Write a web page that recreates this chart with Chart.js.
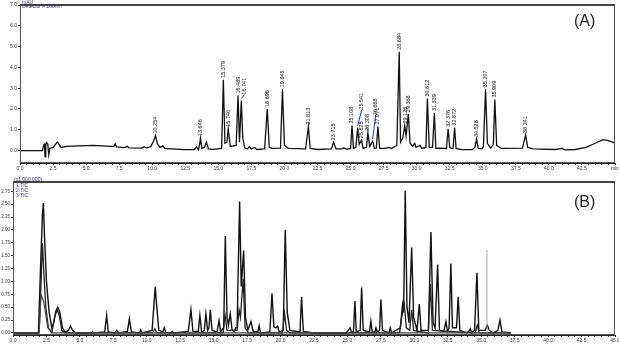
<!DOCTYPE html>
<html>
<head>
<meta charset="utf-8">
<script src="https://cdn.jsdelivr.net/npm/chart.js@4.4.1/dist/chart.umd.min.js"></script>
<style>
  html, body { margin: 0; padding: 0; background: #fff; }
  #wrap { position: relative; width: 619px; height: 347px; overflow: hidden; font-family: "Liberation Sans", Arial, sans-serif; }
  canvas { position: absolute; left: 0; }
  #chartA { top: 0; }
  #chartB { top: 170px; }
  .tag { position: absolute; font-size: 16px; color: #222; }
  .hdr { position: absolute; font-size: 5px; line-height: 5px; color: #3a3a6a; white-space: nowrap; }
</style>
</head>
<body>
<div id="wrap">
  <canvas id="chartA" width="619" height="176"></canvas>
  <canvas id="chartB" width="619" height="177"></canvas>
  <div class="tag" style="left:574px; top:12px;">(A)</div>
  <div class="tag" style="left:574px; top:193px;">(B)</div>
  <div class="hdr" style="left:22px; top:0px;">mAU</div>
  <div class="hdr" style="left:22px; top:4px;">Detector A 280nm</div>
  <div class="hdr" style="left:14px; top:177px;">(x1,000,000)</div>
  <div class="hdr" style="left:16px; top:183px;">1:TIC</div>
  <div class="hdr" style="left:16px; top:188px;">2:TIC</div>
  <div class="hdr" style="left:16px; top:193px;">3:TIC</div>
</div>
<script>
// tick labels
const xLabelsA = ['0.0', '2.5', '5.0', '7.5', '10.0', '12.5', '15.0', '17.5', '20.0', '22.5',
    '25.0', '27.5', '30.0', '32.5', '35.0', '37.5', '40.0', '42.5', 'min'];
const xLabelsB = ['0.0', '2.5', '5.0', '7.5', '10.0', '12.5', '15.0', '17.5', '20.0', '22.5',
    '25.0', '27.5', '30.0', '32.5', '35.0', '37.5', '40.0', '42.5', '45.0'];
const yTicksA = [0, 1, 2, 3, 4, 5, 6, 7];
const yTicksB = [0, 0.25, 0.5, 0.75, 1, 1.25, 1.5, 1.75, 2, 2.25, 2.5, 2.75];

// (A) UV trace, [min, signal]
const traceA = [
    [0, 0], [1.7, 0], [1.78, 0.25], [1.85, 0.3], [1.9, -0.3], [1.95, 0.3], [2.02, 0.38], [2.1, 0.3],
    [2.18, -0.2], [2.25, 0.1], [2.5, 0.15], [2.75, 0.35], [2.85, 0.4], [2.95, 0.3], [3.1, 0.15],
    [3.5, 0.2], [4.5, 0.22], [5.5, 0.25], [6.3, 0.22], [6.8, 0.2], [7.1, 0.2], [7.2, 0.32], [7.3, 0.18],
    [7.9, 0.14], [8.1, 0.2], [8.25, 0.13], [9.2, 0.12], [9.4, 0.18], [9.55, 0.12], [9.9, 0.2],
    [10.1, 0.45], [10.25, 0.72], [10.4, 0.3], [10.6, 0.15], [10.8, 0.22], [10.95, 0.1], [11.5, 0.08],
    [12.4, 0.04], [13.2, 0.05], [13.35, 0.18], [13.5, 0.04], [13.6, 0.35], [13.65, 0.6], [13.75, 0.1],
    [13.95, 0.15], [14.1, 0.4], [14.25, 0.08], [14.6, 0.06], [15.25, 0.1], [15.38, 3.4], [15.5, 0.35],
    [15.65, 0.4], [15.75, 1.05], [15.9, 0.2], [16.35, 0.25], [16.49, 2.65], [16.6, 0.4], [16.74, 2.4],
    [16.85, 0.6], [17.0, 0.12], [17.2, 0.08], [17.35, 0.18], [17.5, 0.08], [17.75, 0.15], [17.9, 0.05],
    [18.5, 0.08], [18.7, 2.0], [18.85, 0.15], [19.1, 0.1], [19.7, 0.12], [19.85, 2.95], [20.0, 0.25],
    [20.3, 0.1], [21.6, 0.08], [21.81, 1.15], [21.95, 0.1], [22.5, 0.05], [23.55, 0.08], [23.72, 0.4],
    [23.9, 0.08], [24.3, 0.08], [24.5, 0.12], [24.7, 0.06], [25.0, 0.1], [25.11, 1.2], [25.22, 0.1],
    [25.4, 0.15], [25.54, 1.1], [25.65, 0.3], [25.83, 0.5], [25.95, 0.1], [26.2, 0.15], [26.31, 0.85],
    [26.45, 0.2], [26.67, 0.45], [26.8, 0.1], [26.95, 0.12], [27.07, 1.15], [27.2, 0.1], [27.6, 0.1],
    [27.9, 0.15], [28.1, 0.1], [28.5, 0.25], [28.68, 4.75], [28.78, 0.4], [28.95, 0.6], [29.1, 1.2],
    [29.2, 0.7], [29.37, 1.75], [29.5, 0.35], [29.7, 0.2], [29.85, 0.35], [29.95, 0.15], [30.25, 0.25],
    [30.4, 0.1], [30.7, 0.15], [30.81, 2.5], [30.95, 0.15], [31.2, 0.15], [31.34, 1.8], [31.45, 0.1],
    [31.7, 0.12], [32.25, 0.1], [32.38, 1.05], [32.5, 0.15], [32.6, 0.12], [32.75, 0.1], [32.87, 1.1],
    [32.98, 0.1], [33.4, 0.04], [34.2, 0.05], [34.4, 0.15], [34.53, 0.55], [34.65, 0.1], [34.95, 0.08],
    [35.05, 0.2], [35.21, 2.95], [35.35, 0.35], [35.6, 0.12], [35.8, 0.3], [35.91, 2.45], [36.05, 0.25],
    [36.4, 0.1], [38.0, 0.12], [38.24, 0.75], [38.4, 0.15], [38.8, 0.08], [40.5, 0.05], [41.0, 0.1],
    [41.2, 0.03], [42.0, 0.05], [42.8, 0.15], [43.5, 0.35], [44.1, 0.52], [44.5, 0.48], [45, 0.35]
];

const peakLabelsA = ['10.254', '13.646', '15.379', '15.746', '16.489', '16.741', '18.696', '19.845',
    '21.813', '23.715', '25.108', '25.541', '25.825', '26.308', '26.668', '27.071', '28.684', '29.126',
    '29.368', '30.812', '31.339', '32.376', '32.872', '34.528', '35.207', '35.909', '38.241'];

// (B) TIC traces, [min, x1,000,000]
const traceB1 = [
    [0, 0], [1.9, 0], [2.05, 1.2], [2.2, 2.3], [2.27, 2.52], [2.35, 1.9], [2.5, 1.0], [2.7, 0.4],
    [2.9, 0.1], [3.05, 0.2], [3.2, 0.42], [3.35, 0.5], [3.5, 0.4], [3.7, 0.1], [3.9, 0.01], [4.15, 0.05],
    [4.3, 0.13], [4.45, 0.05], [4.7, 0], [5.9, 0], [5.95, 0.02], [6.0, 0], [6.85, 0.02], [7.0, 0.34],
    [7.12, 0.02], [7.6, 0], [7.75, 0.05], [7.9, 0], [8.55, 0.03], [8.7, 0.27], [8.85, 0.02], [9.45, 0],
    [9.55, 0.06], [9.65, 0], [10.4, 0.05], [10.55, 0.6], [10.63, 0.9], [10.75, 0.5], [10.9, 0.05],
    [11.2, 0.02], [11.3, 0.1], [11.42, 0.01], [11.8, 0], [11.9, 0.03], [12.0, 0], [13.1, 0.03],
    [13.3, 0.45], [13.45, 0.03], [13.85, 0.03], [13.97, 0.34], [14.1, 0.02], [14.3, 0.05], [14.42, 0.37],
    [14.55, 0.05], [14.65, 0.1], [14.75, 0.45], [14.88, 0.05], [15.25, 0.02], [15.4, 0.24], [15.52, 0.02],
    [15.75, 0.1], [15.87, 1.88], [16.0, 0.3], [16.1, 0.15], [16.24, 0.37], [16.38, 0.05], [16.55, 0.02],
    [16.64, 0.1], [16.75, 0.1], [16.94, 2.55], [17.06, 0.9], [17.24, 1.6], [17.38, 0.3], [17.55, 0.05],
    [17.79, 0.22], [17.95, 0.03], [18.3, 0.02], [18.4, 0.14], [18.5, 0], [19.2, 0.02], [19.36, 0.77],
    [19.5, 0.12], [19.65, 0.1], [19.78, 0.13], [19.9, 0.02], [20.2, 0.05], [20.35, 2.0], [20.5, 0.4],
    [20.7, 0.05], [21.45, 0.02], [21.57, 0.7], [21.7, 0.03], [22.5, 0], [24.9, 0], [25.1, 0.06],
    [25.2, 0.1], [25.3, 0.02], [25.45, 0.03], [25.56, 0.62], [25.66, 0.02], [25.95, 0.05], [26.06, 0.88],
    [26.18, 0.05], [26.65, 0.02], [26.75, 0.23], [26.85, 0.02], [27.05, 0.02], [27.13, 0.1], [27.22, 0.02],
    [27.4, 0.05], [27.5, 0.65], [27.62, 0.05], [28.1, 0], [28.2, 0.1], [28.3, 0], [28.95, 0.1],
    [29.12, 0.55], [29.2, 0.4], [29.32, 2.76], [29.45, 0.5], [29.6, 0.2], [29.8, 1.66], [29.95, 0.3],
    [30.2, 0.05], [30.37, 0.56], [30.5, 0.05], [31.05, 0.05], [31.24, 1.96], [31.4, 0.2], [31.55, 0.1],
    [31.74, 1.33], [31.88, 0.05], [32.2, 0.03], [32.36, 0.22], [32.48, 0.03], [32.6, 0.1], [32.73, 1.35],
    [32.85, 0.1], [33.15, 0.1], [33.28, 0.7], [33.4, 0.05], [33.9, 0], [34.08, 0.03], [34.18, 0.08],
    [34.28, 0], [34.5, 0.05], [34.68, 1.17], [34.82, 0.05], [35.3, 0.05], [35.45, 0.15], [35.6, 0.05],
    [35.9, 0], [36.25, 0.05], [36.4, 0.25], [36.55, 0.02], [37.2, 0]
];
const traceB2 = [
    [0, 0], [1.95, 0], [2.1, 1.0], [2.2, 1.74], [2.3, 1.2], [2.45, 0.5], [2.65, 0.1], [2.9, 0],
    [3.1, 0.3], [3.3, 0.45], [3.45, 0.35], [3.65, 0.05], [3.9, 0], [10.45, 0], [10.6, 0.08], [10.75, 0],
    [15.7, 0], [15.85, 0.35], [16.0, 0.05], [16.75, 0.05], [16.9, 0.45], [17.0, 0.3], [17.2, 1.05],
    [17.35, 0.1], [17.6, 0], [20.15, 0], [20.3, 0.38], [20.45, 0.05], [20.7, 0], [28.9, 0], [29.05, 0.3],
    [29.25, 0.55], [29.4, 0.1], [29.65, 0.05], [29.8, 0.45], [29.95, 0.05], [31.05, 0], [31.2, 0.95],
    [31.35, 0.05], [34.55, 0], [34.7, 0.15], [34.85, 0], [37.2, 0]
];
const traceB3 = [
    [0, 0], [1.95, 0], [2.1, 0.75], [2.3, 0.6], [2.6, 0.1], [3.0, 0], [37.2, 0]
];
const markerB = [[35.43, 0], [35.43, 1.61]];

const labelShift = { '16.741': [3, -4], '25.541': [4, -16], '26.668': [3, -24] };

function toPoints(pairs) {
    return pairs.map(([x, y]) => ({ x, y }));
}

function apexNear(trace, t) {
    return Math.max(...trace.filter(p => Math.abs(p[0] - t) <= 0.08).map(p => p[1]));
}

const framePlugin = {
    id: 'frame',
    afterDraw(chart) {
        const { ctx, chartArea: a } = chart;
        ctx.save();
        ctx.strokeStyle = '#555';
        ctx.lineWidth = 1;
        ctx.strokeRect(a.left + 0.5, a.top + 0.5, a.right - a.left - 1, a.bottom - a.top - 1);
        ctx.strokeStyle = '#444';
        ctx.lineWidth = 2;
        ctx.beginPath();
        ctx.moveTo(a.left, a.top);
        ctx.lineTo(a.right, a.top);
        ctx.stroke();
        ctx.restore();
    }
};

const peakLabelPlugin = {
    id: 'peakLabels',
    afterDatasetsDraw(chart) {
        const { ctx, scales: { x, y } } = chart;
        ctx.save();
        ctx.font = '5.5px "Liberation Sans", Arial, sans-serif';
        ctx.fillStyle = '#111';
        ctx.textAlign = 'left';
        ctx.textBaseline = 'middle';
        peakLabelsA.forEach(label => {
            const t = parseFloat(label);
            const px = x.getPixelForValue(t);
            const py = y.getPixelForValue(apexNear(traceA, t)) - 2;
            const [dx, dy] = labelShift[label] || [0, 0];
            if (dx || dy) {
                ctx.strokeStyle = '#2233cc';
                ctx.lineWidth = 1;
                ctx.beginPath();
                ctx.moveTo(px, py);
                ctx.lineTo(px + dx, py + dy);
                ctx.stroke();
            }
            ctx.save();
            ctx.translate(px + dx, py + dy);
            ctx.rotate(-Math.PI / 2);
            ctx.fillText(label, 0, 0);
            ctx.restore();
        });
        ctx.restore();
    }
};

function buildScales(o) {
    return {
        x: {
            type: 'linear',
            min: 0,
            max: 45,
            border: { display: true, color: '#222', width: 1 },
            grid: { display: true, drawOnChartArea: false, tickLength: 2, color: '#333' },
            ticks: {
                stepSize: 0.5,
                autoSkip: false,
                maxRotation: 0,
                padding: 1,
                color: '#333',
                font: { size: 5, family: '"Liberation Sans", Arial, sans-serif' },
                callback: v => {
                    const i = v / 2.5;
                    return Math.abs(i - Math.round(i)) < 1e-6 ? o.xLabels[Math.round(i)] : '';
                }
            },
            afterFit: s => { s.height = o.xHeight; s.paddingLeft = 0; s.paddingRight = 0; }
        },
        y: {
            type: 'linear',
            min: o.yMin,
            max: o.yMax,
            border: { display: true, color: '#222', width: 1 },
            grid: { display: true, drawOnChartArea: false, tickLength: 2, color: '#333' },
            afterBuildTicks: s => { s.ticks = o.yTicks.map(v => ({ value: v })); },
            ticks: {
                padding: 1,
                color: '#333',
                font: { size: o.yFont, family: '"Liberation Sans", Arial, sans-serif' },
                callback: v => v.toFixed(o.digits)
            },
            afterFit: s => { s.width = o.yWidth; s.paddingTop = 0; s.paddingBottom = 0; }
        }
    };
}

function line(data, color, width) {
    return {
        data: toPoints(data),
        showLine: true,
        borderColor: color,
        borderWidth: width,
        pointRadius: 0,
        tension: 0
    };
}

const common = {
    responsive: false,
    animation: false,
    devicePixelRatio: 1,
    plugins: { legend: { display: false }, tooltip: { enabled: false } }
};

new Chart(document.getElementById('chartA'), {
    type: 'scatter',
    data: { datasets: [line(traceA, '#111', 1.3)] },
    options: {
        ...common,
        layout: { padding: { top: 5, right: 4, left: 0, bottom: 0 } },
        scales: buildScales({ xLabels: xLabelsA, xHeight: 13, yMin: -0.6, yMax: 7, yTicks: yTicksA, digits: 1, yWidth: 20, yFont: 5 })
    },
    plugins: [framePlugin, peakLabelPlugin]
});

new Chart(document.getElementById('chartB'), {
    type: 'scatter',
    data: {
        datasets: [
            line(markerB, '#aaa', 1),
            line(traceB3, '#444', 1.2),
            line(traceB2, '#222', 1.3),
            line(traceB1, '#111', 1.4)
        ]
    },
    options: {
        ...common,
        layout: { padding: { top: 12, right: 4, left: 0, bottom: 0 } },
        scales: buildScales({ xLabels: xLabelsB, xHeight: 12, yMin: -0.04, yMax: 2.93, yTicks: yTicksB, digits: 2, yWidth: 13, yFont: 4.5 })
    },
    plugins: [framePlugin]
});
</script>
</body>
</html>
